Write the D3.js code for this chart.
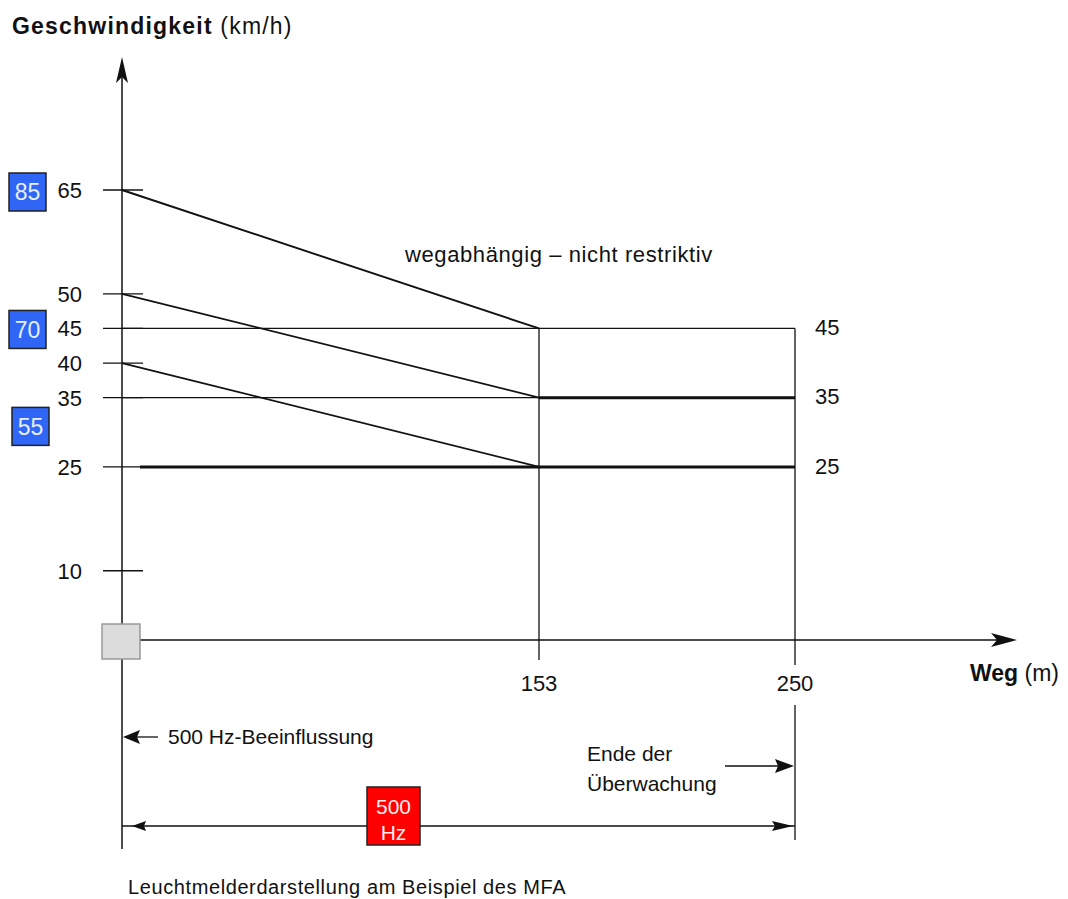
<!DOCTYPE html>
<html><head><meta charset="utf-8">
<script src="https://cdn.jsdelivr.net/npm/d3@7"></script>
<style>body{margin:0;background:#fff}text{font-family:"Liberation Sans",Arial,sans-serif;fill:#111}</style>
</head><body>
<svg id="c" width="1068" height="899"></svg>
<script>
// ---- data ----
const yTicks = [65, 50, 45, 40, 35, 25, 10];
const xTicks = [153, 250];
const rightLabels = [45, 35, 25];
// speed curves: start speed at 0 m -> speed at 153 m
const curves = [
  {name: "85", from: 65, to: 45},
  {name: "70", from: 50, to: 35},
  {name: "55", from: 40, to: 25}
];
const signals = [ {label: "85", v: 65}, {label: "70", v: 45}, {label: "55", v: 31} ];
const brakeDist = 153, monitorEnd = 250;

const svg = d3.select("#c");
const x = d3.scaleLinear().domain([0, 153, 250, 325]).range([122, 539, 795, 1015]);
const y = d3.scaleLinear().domain([0, 65]).range([640, 190]);

const line = (x1,y1,x2,y2,w) => svg.append("line").attr("x1",x1).attr("y1",y1).attr("x2",x2).attr("y2",y2)
  .attr("stroke","#111").attr("stroke-width",w||1.3);

// tick marks on y-axis
yTicks.forEach(v => line(103, y(v), 143, y(v), 1.3));
// horizontal reference lines at 45 and 35
line(x(0), y(45), x(monitorEnd), y(45), 1.3);
line(x(0), y(35), x(brakeDist), y(35), 1.3);
line(140, y(25), x(brakeDist), y(25), 3);
line(x(brakeDist), y(35), x(monitorEnd), y(35), 3);
line(x(brakeDist), y(25), x(monitorEnd), y(25), 3);

// diagonal curves
curves.forEach((c,i) => {
  svg.append("line").attr("x1", x(0)).attr("y1", y(c.from)).attr("x2", x(brakeDist)).attr("y2", y(c.to))
    .attr("stroke","#111").attr("stroke-width", i===0 ? 1.9 : 1.7);
});

// verticals
line(x(brakeDist), y(45), x(brakeDist), 660, 1.3);
line(x(monitorEnd), y(45), x(monitorEnd), 665, 1.3);
line(x(monitorEnd), 705, x(monitorEnd), 840, 1.3);

// y axis
line(x(0), 75, x(0), 849, 1.5);
svg.append("path").attr("d", `M${x(0)},57 L${x(0)-6},83 L${x(0)},77 L${x(0)+6},83 Z`).attr("fill","#111");
// x axis
line(x(0), y(0), 1000, y(0), 1.5);
svg.append("path").attr("d", `M1017,${y(0)} L991,${y(0)-7} L997,${y(0)} L991,${y(0)+7} Z`).attr("fill","#111");

// grey square at origin
svg.append("rect").attr("x",102).attr("y",624).attr("width",38).attr("height",35)
  .attr("fill","#dcdcdc").attr("stroke","#999").attr("stroke-width",1.5);

// y tick labels
svg.selectAll(".yl").data(yTicks).enter().append("text")
  .attr("x", 82).attr("y", d => y(d)).attr("dy","0.36em").attr("text-anchor","end")
  .attr("font-size", 22).text(d => d);
// right labels
svg.selectAll(".rl").data(rightLabels).enter().append("text")
  .attr("x", 815).attr("y", d => y(d)).attr("dy","0.3em")
  .attr("font-size", 22).text(d => d);
// x tick labels
svg.selectAll(".xl").data(xTicks).enter().append("text")
  .attr("x", d => x(d)).attr("y", 691).attr("text-anchor","middle")
  .attr("font-size", 22).text(d => d);

// blue signal boxes
const bx = [9, 9, 12];
signals.forEach((s,i) => {
  const cy = y(s.v) + (i===0 ? 1 : 0);
  svg.append("rect").attr("x", bx[i]).attr("y", cy-18).attr("width", 37).attr("height", 38)
    .attr("fill","#2f66f6").attr("stroke","#222").attr("stroke-width",1.5);
  svg.append("text").attr("x", bx[i]+18.5).attr("y", cy+1).attr("dy","0.36em").attr("text-anchor","middle")
    .attr("font-size", 23).style("fill","#e8eeff").text(s.label);
});

// axis titles
const t1 = svg.append("text").attr("x", 12).attr("y", 34).attr("font-size", 23).attr("letter-spacing", 1.2);
t1.append("tspan").attr("font-weight","bold").text("Geschwindigkeit");
t1.append("tspan").text(" (km/h)");
const t2 = svg.append("text").attr("x", 970).attr("y", 681).attr("font-size", 23);
t2.append("tspan").attr("font-weight","bold").text("Weg");
t2.append("tspan").text(" (m)");

svg.append("text").attr("x", 405).attr("y", 262).attr("font-size", 22).attr("letter-spacing", 0.6).text("wegabhängig – nicht restriktiv");

// 500 Hz annotation
line(158, 737, 135, 737, 1.3);
svg.append("path").attr("d", `M${x(0)+1},737 L140,730 L137,737 L140,744 Z`).attr("fill","#111");
svg.append("text").attr("x", 168).attr("y", 744).attr("font-size", 21).text("500 Hz-Beeinflussung");

// Ende der Überwachung
svg.append("text").attr("x", 587).attr("y", 761).attr("font-size", 21).text("Ende der");
svg.append("text").attr("x", 587).attr("y", 791).attr("font-size", 21).text("Überwachung");
line(725, 766, 780, 766, 1.3);
svg.append("path").attr("d", `M${x(monitorEnd)-1},766 L775,759 L778,766 L775,773 Z`).attr("fill","#111");

// bottom double arrow
line(x(0), 826, x(monitorEnd), 826, 1.3);
svg.append("path").attr("d", `M${x(0)+10},826 L146,821 L144,826 L146,831 Z`).attr("fill","#111");
svg.append("path").attr("d", `M${x(monitorEnd)-2},826 L772,821 L775,826 L772,831 Z`).attr("fill","#111");

// red 500 Hz box
svg.append("rect").attr("x", 367).attr("y", 787).attr("width", 53).attr("height", 58)
  .attr("fill","#ff0000").attr("stroke","#222").attr("stroke-width",1.5);
svg.append("text").attr("x", 393.5).attr("y", 814).attr("text-anchor","middle").attr("font-size", 21).style("fill","#ffecec").text("500");
svg.append("text").attr("x", 393.5).attr("y", 840).attr("text-anchor","middle").attr("font-size", 21).style("fill","#ffecec").text("Hz");

svg.append("text").attr("x", 128).attr("y", 894).attr("font-size", 20).attr("letter-spacing", 0.6).text("Leuchtmelderdarstellung am Beispiel des MFA");
</script>
</body></html>
